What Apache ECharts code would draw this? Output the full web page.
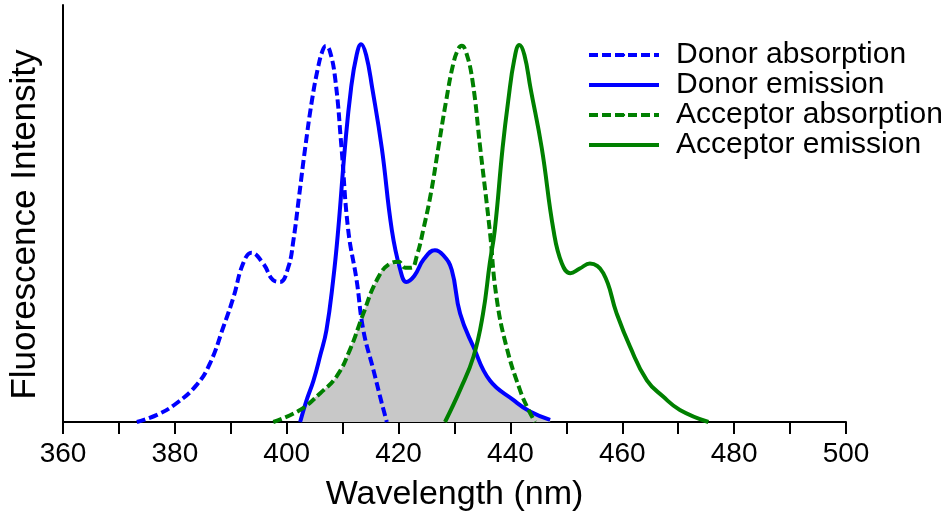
<!DOCTYPE html>
<html>
<head>
<meta charset="utf-8">
<script src="https://cdn.jsdelivr.net/npm/echarts@6/dist/echarts.min.js"></script>
<style>html,body{margin:0;padding:0;background:#fff}#c{width:951px;height:518px}</style>
</head>
<body>
<div id="c"></div>
<script>
// ---- data ----
var seriesNames = ['Donor absorption', 'Donor emission', 'Acceptor absorption', 'Acceptor emission'];
var xTicks = [360, 380, 400, 420, 440, 460, 480, 500];

var donorAbsX = [373.2, 376.8, 380.3, 383.9, 386.3, 388.7, 390.5, 392.2, 393.7, 395.8, 397.6, 398.8, 400.3, 401.2, 402.2, 403.3, 404.5, 405.6, 406.4, 407.0, 407.7, 408.7, 409.8, 411.0, 412.5, 413.7, 415.5, 417.0, 417.9];
var donorAbsY = [0, 0.017, 0.045, 0.089, 0.141, 0.229, 0.30, 0.38, 0.406, 0.38, 0.34, 0.336, 0.372, 0.436, 0.54, 0.657, 0.77, 0.85, 0.89, 0.902, 0.89, 0.82, 0.657, 0.46, 0.34, 0.22, 0.125, 0.045, 0];

var donorEmX = [402.4, 403.5, 404.8, 406.0, 407.1, 408.3, 409.2, 410.4, 411.5, 412.5, 413.3, 414.2, 415.3, 417.0, 418.8, 420.3, 421.4, 422.8, 424.5, 426.5, 428.0, 429.5, 431.0, 433.4, 436.3, 440.5, 443.5, 447.1];
var donorEmY = [0, 0.05, 0.10, 0.16, 0.22, 0.34, 0.46, 0.657, 0.80, 0.88, 0.906, 0.88, 0.80, 0.657, 0.46, 0.365, 0.336, 0.35, 0.39, 0.412, 0.40, 0.365, 0.26, 0.18, 0.10, 0.053, 0.025, 0.005];

var accAbsX = [397.6, 402.4, 406.0, 408.9, 411.3, 413.7, 416.1, 418.5, 420.0, 421.2, 422.3, 423.3, 424.4, 425.8, 427.1, 428.5, 429.8, 430.7, 431.3, 432.0, 433.2, 434.6, 436.3, 437.5, 439.3, 441.7, 443.2, 444.4];
var accAbsY = [0, 0.029, 0.069, 0.109, 0.173, 0.26, 0.34, 0.38, 0.384, 0.37, 0.37, 0.40, 0.46, 0.55, 0.657, 0.77, 0.86, 0.895, 0.902, 0.89, 0.82, 0.657, 0.46, 0.30, 0.18, 0.077, 0.03, 0];

var accEmX = [428.3, 431.0, 433.4, 435.1, 436.3, 437.2, 438.6, 439.6, 440.7, 441.6, 442.5, 443.6, 445.6, 447.7, 449.2, 450.7, 452.4, 454.2, 456.6, 459.0, 461.4, 464.4, 467.3, 470.3, 475.4];
var accEmY = [0, 0.077, 0.157, 0.26, 0.38, 0.46, 0.657, 0.77, 0.87, 0.904, 0.88, 0.80, 0.657, 0.46, 0.38, 0.357, 0.368, 0.38, 0.357, 0.26, 0.18, 0.10, 0.061, 0.029, 0];

// spectral overlap (gray shaded region)
var overlapX = [402.4, 403.3, 406.0, 408.9, 411.3, 413.7, 416.1, 418.5, 419.8, 421.4, 422.8, 424.5, 426.5, 428.0, 429.5, 431.0, 433.4, 436.3, 440.5, 443.5, 447.1];
var overlapY = [0, 0.04, 0.069, 0.109, 0.173, 0.26, 0.34, 0.38, 0.375, 0.336, 0.35, 0.39, 0.412, 0.40, 0.365, 0.26, 0.18, 0.10, 0.053, 0.025, 0.005];

function zip(xs, ys) { return xs.map(function (x, i) { return [x, ys[i]]; }); }

var FONT = '"Liberation Sans", Arial, Helvetica, sans-serif';
var BLUE = '#0000ff', GREEN = '#008000';
var DASH = [9, 4];
var SMOOTH = 0.45;

function lineSeries(name, xs, ys, color, dashed) {
  return {
    name: name, type: 'line', data: zip(xs, ys), smooth: SMOOTH,
    symbol: 'none', z: 3,
    lineStyle: { color: color, width: 4, type: dashed ? DASH : 'solid', cap: 'butt' },
    itemStyle: { color: color }
  };
}

var chart = echarts.init(document.getElementById('c'), null, { renderer: 'canvas' });
chart.setOption({
  animation: false,
  backgroundColor: '#fff',
  grid: { left: 63, right: 105, top: 5, bottom: 96, containLabel: false },
  xAxis: {
    type: 'value', min: 360, max: 500, interval: 20,
    name: 'Wavelength (nm)', nameLocation: 'middle', nameGap: 56,
    nameTextStyle: { fontSize: 34, color: '#000', fontFamily: FONT },
    axisLine: { show: true, onZero: false, lineStyle: { color: '#000', width: 2 } },
    axisTick: { show: true, inside: false, length: 12, lineStyle: { color: '#000', width: 2 } },
    minorTick: { show: true, splitNumber: 2, length: 12, lineStyle: { color: '#000', width: 2 } },
    axisLabel: { fontSize: 28, color: '#000', fontFamily: FONT, margin: 18,
      formatter: function (v) { return xTicks.indexOf(v) >= 0 ? String(v) : ''; } },
    splitLine: { show: false }
  },
  yAxis: {
    type: 'value', min: 0, max: 1,
    name: 'Fluorescence Intensity', nameLocation: 'middle', nameGap: 20, nameRotate: 90,
    nameTextStyle: { fontSize: 35, color: '#000', fontFamily: FONT, padding: [0, 22, 0, 0] },
    axisLine: { show: true, onZero: false, lineStyle: { color: '#000', width: 2 } },
    axisTick: { show: false }, axisLabel: { show: false }, splitLine: { show: false }
  },
  legend: {
    orient: 'vertical', left: 582, top: 35, itemWidth: 70, itemHeight: 3, itemGap: 0,
    data: seriesNames,
    lineStyle: { width: 4 },
    textStyle: { fontSize: 30, color: '#000', fontFamily: FONT, lineHeight: 28.7, padding: [0, 0, 0, 12] }
  },
  series: [
    {
      name: 'overlap', type: 'line', data: zip(overlapX, overlapY), smooth: SMOOTH,
      symbol: 'none', z: 1, lineStyle: { width: 0 },
      areaStyle: { color: '#c8c8c8', opacity: 1 }, silent: true
    },
    lineSeries(seriesNames[0], donorAbsX, donorAbsY, BLUE, true),
    lineSeries(seriesNames[1], donorEmX, donorEmY, BLUE, false),
    lineSeries(seriesNames[2], accAbsX, accAbsY, GREEN, true),
    lineSeries(seriesNames[3], accEmX, accEmY, GREEN, false)
  ]
});
</script>
</body>
</html>
